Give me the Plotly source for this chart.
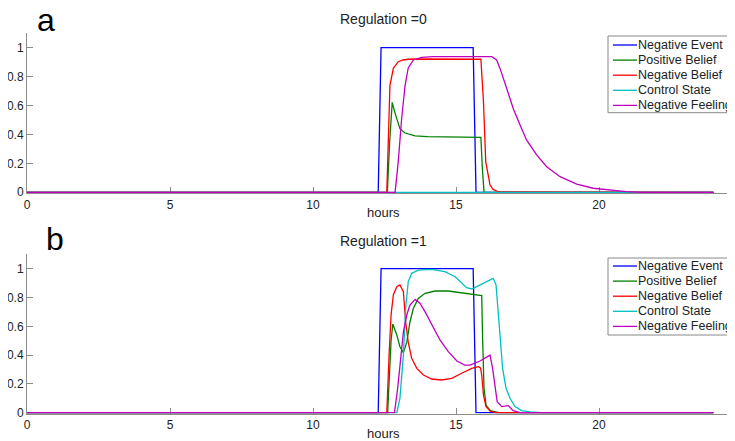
import plotly.graph_objects as go

# ---------------- data ----------------
names = ["Negative Event", "Positive Belief", "Negative Belief", "Control State", "Negative Feeling"]
colors = ["#0000ff", "#008000", "#ff0000", "#00bfbf", "#bf00bf"]

# Regulation = 0
a_event_x = [0, 12.28, 12.38, 15.6, 15.7, 24]
a_event_y = [0, 0, 1, 1, 0, 0]
a_pos_x = [0, 12.6, 12.68, 12.77, 12.85, 12.93, 13.04, 13.22, 13.57, 14.0, 15.87, 15.92, 15.98, 24]
a_pos_y = [0, 0, 0.35, 0.622, 0.56, 0.51, 0.44, 0.41, 0.39, 0.385, 0.38, 0.17, 0, 0]
a_neg_x = [0, 12.58, 12.64, 12.69, 12.81, 12.98, 13.15, 13.33, 13.6, 15.87, 15.96, 16.04, 16.19, 16.3, 16.48, 24]
a_neg_y = [0, 0, 0.40, 0.74, 0.857, 0.903, 0.915, 0.92, 0.922, 0.92, 0.63, 0.21, 0.05, 0.02, 0.003, 0]
a_ctrl_x = [0, 24]
a_ctrl_y = [0, 0]
a_feel_x = [0, 12.87, 12.98, 13.1, 13.22, 13.33, 13.51, 13.8, 14.2, 16.25, 16.42, 16.54, 16.77, 17.0,
            17.24, 17.47, 17.82, 18.17, 18.64, 19.22, 19.8, 20.38, 20.96, 21.5, 24]
a_feel_y = [0, 0, 0.21, 0.51, 0.74, 0.86, 0.915, 0.933, 0.938, 0.938, 0.915, 0.857, 0.72, 0.58,
            0.465, 0.36, 0.258, 0.177, 0.108, 0.057, 0.028, 0.014, 0.005, 0, 0]

# Regulation = 1
b_event_x = [0, 12.28, 12.38, 15.6, 15.7, 24]
b_event_y = [0, 0, 1, 1, 0, 0]
b_pos_x = [0, 12.61, 12.67, 12.73, 12.79, 12.93, 13.04, 13.16, 13.28, 13.39, 13.51, 13.68, 13.92, 14.27,
           14.73, 15.2, 15.66, 15.9, 15.93, 15.98, 16.05, 16.2, 16.5, 24]
b_pos_y = [0, 0, 0.25, 0.5, 0.616, 0.54, 0.458, 0.417, 0.49, 0.63, 0.725, 0.794, 0.829, 0.845,
           0.845, 0.833, 0.822, 0.813, 0.517, 0.17, 0.053, 0.015, 0, 0]
b_neg_x = [0, 12.58, 12.66, 12.73, 12.81, 12.93, 13.04, 13.16, 13.24, 13.33, 13.45, 13.63, 13.86, 14.15,
           14.5, 14.85, 15.2, 15.55, 15.78, 15.86, 15.9, 15.96, 16.05, 16.2, 16.4, 24]
b_neg_y = [0, 0, 0.40, 0.68, 0.82, 0.875, 0.887, 0.84, 0.63, 0.49, 0.378, 0.308, 0.262, 0.234,
           0.227, 0.239, 0.274, 0.308, 0.32, 0.31, 0.26, 0.123, 0.042, 0.01, 0, 0]
b_ctrl_x = [0, 12.93, 13.04, 13.16, 13.24, 13.33, 13.45, 13.68, 14.15, 14.61, 14.97, 15.14, 15.37, 15.55,
            15.84, 16.07, 16.3, 16.40, 16.48, 16.54, 16.63, 16.75, 16.89, 17.06, 17.3, 17.59, 18.0, 24]
b_ctrl_y = [0, 0, 0.1, 0.4, 0.725, 0.91, 0.968, 0.99, 0.996, 0.98, 0.944, 0.91, 0.868, 0.859,
            0.887, 0.915, 0.933, 0.887, 0.68, 0.49, 0.308, 0.17, 0.1, 0.042, 0.014, 0.005, 0, 0]
b_feel_x = [0, 12.85, 12.96, 13.08, 13.16, 13.28, 13.39, 13.57, 13.74, 13.92, 14.15, 14.44, 14.73, 15.03,
            15.31, 15.49, 15.84, 16.19, 16.28, 16.36, 16.44, 16.6, 16.75, 16.83, 17.0, 17.24, 24]
b_feel_y = [0, 0, 0.17, 0.4, 0.56, 0.68, 0.748, 0.787, 0.76, 0.70, 0.609, 0.505, 0.424, 0.359,
            0.331, 0.331, 0.359, 0.40, 0.308, 0.17, 0.076, 0.042, 0.048, 0.049, 0.014, 0, 0]

panel_titles = ["Regulation =0", "Regulation =1"]
panel_letters = ["a", "b"]
x_ticks = [0, 5, 10, 15, 20]
y_ticks = [0, 0.2, 0.4, 0.6, 0.8, 1]

# ---------------- figure ----------------
# the page body has an 8px margin; size the figure so it ends at the window edge
OFF = 8
W, H = 735 - OFF, 441 - OFF
FONT = "Liberation Sans, Arial, sans-serif"

def fx(px):
    return (px - OFF) / W

def fy(py):
    return 1 - (py - OFF) / H

fig = go.Figure()

panels = [
    ([(a_event_x, a_event_y), (a_pos_x, a_pos_y), (a_neg_x, a_neg_y), (a_ctrl_x, a_ctrl_y), (a_feel_x, a_feel_y)], "x", "y"),
    ([(b_event_x, b_event_y), (b_pos_x, b_pos_y), (b_neg_x, b_neg_y), (b_ctrl_x, b_ctrl_y), (b_feel_x, b_feel_y)], "x2", "y2"),
]
for series, xa, ya in panels:
    for (xs, ys), name, col in zip(series, names, colors):
        fig.add_trace(go.Scatter(x=xs, y=ys, mode="lines", name=name, xaxis=xa, yaxis=ya,
                                 line=dict(color=col, width=1.3), showlegend=False))

axis_common = dict(showgrid=False, zeroline=False, showline=True, linecolor="#8c8c8c", linewidth=1,
                   ticks="inside", ticklen=6, tickcolor="#8c8c8c", tickwidth=1, automargin=False,
                   tickfont=dict(family=FONT, size=12, color="#222222"), layer="below traces")

xdom = [fx(27), 1]
xrange = [0, (735 - 27) / 28.6]
ydom_top = [fy(193.3), fy(33.24)]
ydom_bot = [fy(413.7), fy(254.3)]

fig.update_layout(
    width=W, height=H, margin=dict(l=0, r=0, t=0, b=0),
    paper_bgcolor="white", plot_bgcolor="white", showlegend=False,
    xaxis=dict(domain=xdom, range=xrange, tickvals=x_ticks, anchor="y", **axis_common),
    yaxis=dict(domain=ydom_top, range=[-0.007, 1.1], tickvals=y_ticks, anchor="x", **axis_common),
    xaxis2=dict(domain=xdom, range=xrange, tickvals=x_ticks, anchor="y2", **axis_common),
    yaxis2=dict(domain=ydom_bot, range=[-0.007, 1.1], tickvals=y_ticks, anchor="x2", **axis_common),
)

annotations = []
shapes = []
title_y = [19, 240.7]
letter_pos = [(35, 19.5), (44, 239)]
hours_y = [212.5, 433.3]
legend_top = [36, 258]
legend_bot = [112.7, 335]
row0 = [45, 266]
for i in range(2):
    annotations.append(dict(text=panel_titles[i], x=fx(383), y=fy(title_y[i]), xref="paper", yref="paper",
                            xanchor="center", yanchor="middle", showarrow=False,
                            font=dict(family=FONT, size=14, color="#222222")))
    annotations.append(dict(text=panel_letters[i], x=fx(letter_pos[i][0]), y=fy(letter_pos[i][1]),
                            xref="paper", yref="paper", xanchor="left", yanchor="middle", showarrow=False,
                            font=dict(family=FONT, size=32, color="#000000")))
    annotations.append(dict(text="hours", x=fx(383.5), y=fy(hours_y[i]), xref="paper", yref="paper",
                            xanchor="center", yanchor="middle", showarrow=False,
                            font=dict(family=FONT, size=13, color="#222222")))
    shapes.append(dict(type="rect", xref="paper", yref="paper", x0=fx(608), x1=fx(760),
                       y0=fy(legend_bot[i]), y1=fy(legend_top[i]),
                       line=dict(color="#888888", width=1), fillcolor="white", layer="above"))
    for k, (name, col) in enumerate(zip(names, colors)):
        yy = row0[i] + k * 15.1
        shapes.append(dict(type="line", xref="paper", yref="paper", x0=fx(613), x1=fx(637),
                           y0=fy(yy), y1=fy(yy), line=dict(color=col, width=1.3), layer="above"))
        annotations.append(dict(text=name, x=fx(636), y=fy(yy), xref="paper", yref="paper",
                                xanchor="left", yanchor="middle", showarrow=False,
                                font=dict(family=FONT, size=12.5, color="#222222")))

fig.update_layout(annotations=annotations, shapes=shapes)
fig.write_html("out.html")
